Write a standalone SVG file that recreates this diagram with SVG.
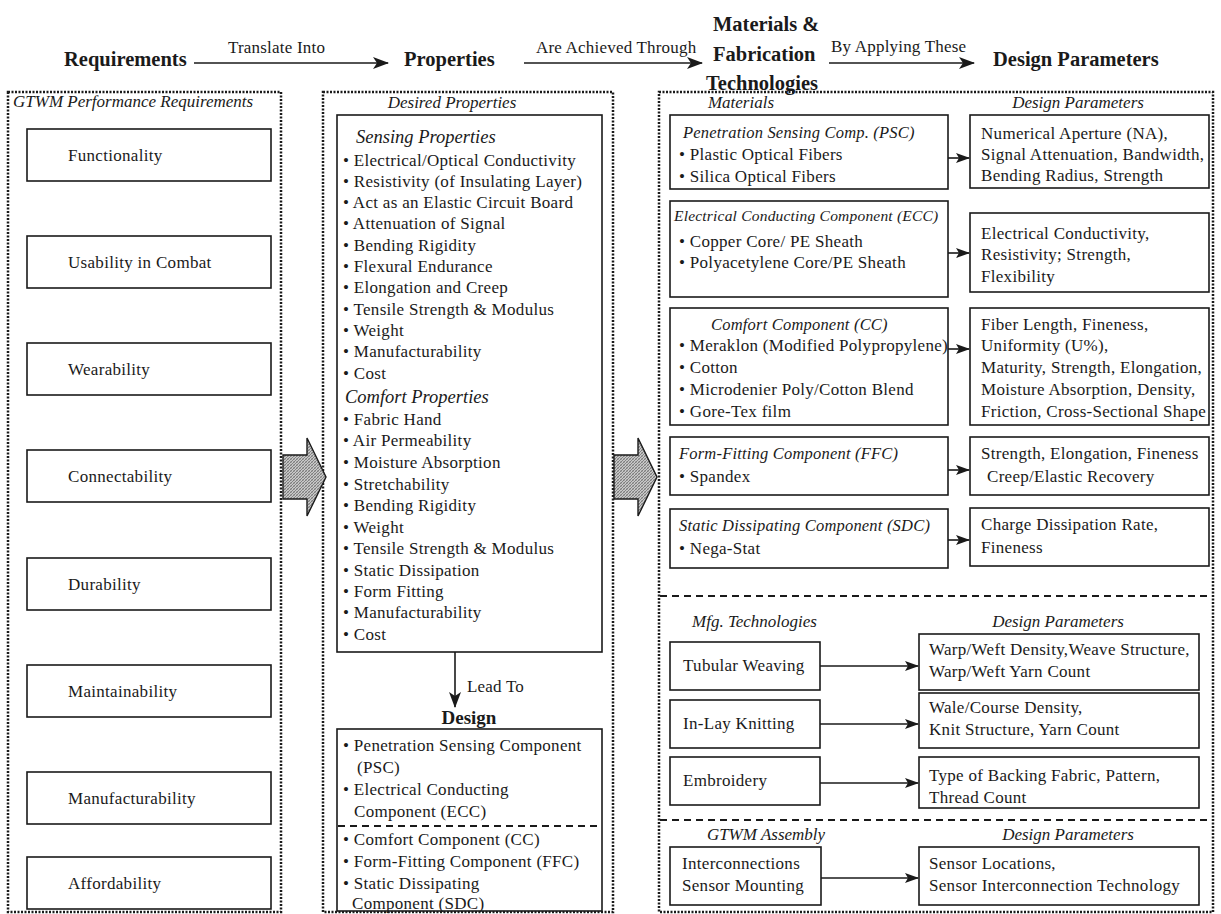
<svg xmlns="http://www.w3.org/2000/svg" width="1221" height="914" viewBox="0 0 1221 914">
<defs>
<style>
text{font-family:"Liberation Serif","Times New Roman",serif;fill:#1a1a1a}
.hd{font-size:20.5px;font-weight:bold}
.lb{font-size:17px;letter-spacing:0.2px}
.b{font-size:17px;letter-spacing:0.3px}
.sec{font-size:17px;font-style:italic}
.sub{font-size:18.5px;font-style:italic}
.ttl{font-size:16.5px;font-style:italic;letter-spacing:0.2px}
.box{fill:#fff;stroke:#1a1a1a;stroke-width:1.6}
.dot{fill:none;stroke:#1a1a1a;stroke-width:2.5;stroke-dasharray:2 1.5}
.dash{fill:none;stroke:#1a1a1a;stroke-width:2.2;stroke-dasharray:7 5}
.ln{fill:none;stroke:#1a1a1a;stroke-width:1.6}
.big{fill:url(#hatch);stroke:#1a1a1a;stroke-width:1.4}
.mid{text-anchor:middle}
</style>
<marker id="ah" viewBox="0 0 16 12" refX="15" refY="6" markerWidth="16" markerHeight="12" markerUnits="userSpaceOnUse" orient="auto"><path d="M0,0 L16,6 L0,12 L4,6 z" fill="#1a1a1a"/></marker>
<marker id="as" viewBox="0 0 14 10" refX="13" refY="5" markerWidth="14" markerHeight="10" markerUnits="userSpaceOnUse" orient="auto"><path d="M0,0 L14,5 L0,10 L3,5 z" fill="#1a1a1a"/></marker>
<pattern id="hatch" width="3" height="3" patternUnits="userSpaceOnUse"><rect width="3" height="3" fill="#c8c8c8"/><path d="M0,3 L3,0" stroke="#6a6a6a" stroke-width="0.8"/><path d="M0,0 L3,3" stroke="#8a8a8a" stroke-width="0.5"/></pattern>
</defs>
<rect width="1221" height="914" fill="#fff"/>

<g id="headers">
<text class="hd" x="64" y="66">Requirements</text>
<text class="hd" x="404" y="66">Properties</text>
<text class="hd" x="713" y="31">Materials &amp;</text>
<text class="hd" x="713" y="61">Fabrication</text>
<text class="hd" x="706" y="90">Technologies</text>
<text class="hd" x="993" y="66">Design Parameters</text>
</g>

<g id="frames">
<rect class="dot" x="8" y="92" width="273" height="820"/>
<rect class="dot" x="323" y="92" width="290" height="820"/>
<rect class="dot" x="659" y="92" width="554" height="820"/>
<line class="dash" x1="660" y1="596" x2="1212" y2="596"/>
<line class="dash" x1="660" y1="820" x2="1212" y2="820"/>
<text class="sec" x="13" y="107">GTWM Performance Requirements</text>
<text class="sec mid" x="452" y="108">Desired Properties</text>
<text class="sec mid" x="741" y="108">Materials</text>
<text class="sec mid" x="1078" y="108">Design Parameters</text>
<text class="sec" x="692" y="627">Mfg. Technologies</text>
<text class="sec mid" x="1058" y="627">Design Parameters</text>
<text class="sec mid" x="766" y="840">GTWM Assembly</text>
<text class="sec mid" x="1068" y="840">Design Parameters</text>
</g>

<g id="req-functionality"><rect class="box" x="27" y="129" width="244" height="52"/><text class="b" x="68" y="161">Functionality</text></g>
<g id="req-usability"><rect class="box" x="27" y="236" width="244" height="52"/><text class="b" x="68" y="268">Usability in Combat</text></g>
<g id="req-wearability"><rect class="box" x="27" y="343" width="244" height="52"/><text class="b" x="68" y="375">Wearability</text></g>
<g id="req-connectability"><rect class="box" x="27" y="450" width="244" height="52"/><text class="b" x="68" y="482">Connectability</text></g>
<g id="req-durability"><rect class="box" x="27" y="558" width="244" height="52"/><text class="b" x="68" y="590">Durability</text></g>
<g id="req-maintainability"><rect class="box" x="27" y="665" width="244" height="52"/><text class="b" x="68" y="697">Maintainability</text></g>
<g id="req-manufacturability"><rect class="box" x="27" y="772" width="244" height="52"/><text class="b" x="68" y="804">Manufacturability</text></g>
<g id="req-affordability"><rect class="box" x="27" y="857" width="244" height="52"/><text class="b" x="68" y="889">Affordability</text></g>

<g id="desired-properties">
<rect class="box" x="337" y="115" width="265" height="537"/>
<text class="sub" x="356" y="143">Sensing Properties</text>
<text class="b" x="343" y="166">• Electrical/Optical Conductivity</text>
<text class="b" x="343" y="187">• Resistivity (of Insulating Layer)</text>
<text class="b" x="343" y="208">• Act as an Elastic Circuit Board</text>
<text class="b" x="343" y="229">• Attenuation of Signal</text>
<text class="b" x="343" y="251">• Bending Rigidity</text>
<text class="b" x="343" y="272">• Flexural Endurance</text>
<text class="b" x="343" y="293">• Elongation and Creep</text>
<text class="b" x="343" y="315">• Tensile Strength &amp; Modulus</text>
<text class="b" x="343" y="336">• Weight</text>
<text class="b" x="343" y="357">• Manufacturability</text>
<text class="b" x="343" y="379">• Cost</text>
<text class="sub" x="345" y="403">Comfort Properties</text>
<text class="b" x="343" y="425">• Fabric Hand</text>
<text class="b" x="343" y="446">• Air Permeability</text>
<text class="b" x="343" y="468">• Moisture Absorption</text>
<text class="b" x="343" y="490">• Stretchability</text>
<text class="b" x="343" y="511">• Bending Rigidity</text>
<text class="b" x="343" y="533">• Weight</text>
<text class="b" x="343" y="554">• Tensile Strength &amp; Modulus</text>
<text class="b" x="343" y="576">• Static Dissipation</text>
<text class="b" x="343" y="597">• Form Fitting</text>
<text class="b" x="343" y="618">• Manufacturability</text>
<text class="b" x="343" y="640">• Cost</text>
</g>

<g id="design">
<text class="hd mid" x="469" y="724" style="font-size:19px">Design</text>
<rect class="box" x="337" y="729" width="265" height="182"/>
<line class="dash" x1="338" y1="826" x2="601" y2="826"/>
<text class="b" x="343" y="751">• Penetration Sensing Component</text>
<text class="b" x="357" y="773">(PSC)</text>
<text class="b" x="343" y="795">• Electrical Conducting</text>
<text class="b" x="354" y="817">Component (ECC)</text>
<text class="b" x="343" y="845">• Comfort Component (CC)</text>
<text class="b" x="343" y="867">• Form-Fitting Component (FFC)</text>
<text class="b" x="343" y="889">• Static Dissipating</text>
<text class="b" x="352" y="909">Component (SDC)</text>
</g>

<g id="mat-psc"><rect class="box" x="670" y="115" width="278" height="74"/>
<text class="ttl" x="683" y="138">Penetration Sensing Comp. (PSC)</text>
<text class="b" x="679" y="160">• Plastic Optical Fibers</text>
<text class="b" x="679" y="182">• Silica Optical Fibers</text></g>
<g id="dp-psc"><rect class="box" x="970" y="115" width="239" height="73"/>
<text class="b" x="981" y="139">Numerical Aperture (NA),</text>
<text class="b" x="981" y="160">Signal Attenuation, Bandwidth,</text>
<text class="b" x="981" y="181">Bending Radius, Strength</text></g>

<g id="mat-ecc"><rect class="box" x="670" y="201" width="278" height="96"/>
<text class="ttl" x="674" y="221" style="font-size:15.5px">Electrical Conducting Component (ECC)</text>
<text class="b" x="679" y="247">• Copper Core/ PE Sheath</text>
<text class="b" x="679" y="268">• Polyacetylene Core/PE Sheath</text></g>
<g id="dp-ecc"><rect class="box" x="970" y="213" width="239" height="79"/>
<text class="b" x="981" y="239">Electrical Conductivity,</text>
<text class="b" x="981" y="260">Resistivity; Strength,</text>
<text class="b" x="981" y="282">Flexibility</text></g>

<g id="mat-cc"><rect class="box" x="670" y="308" width="278" height="117"/>
<text class="ttl" x="711" y="330">Comfort Component (CC)</text>
<text class="b" x="679" y="351">• Meraklon (Modified Polypropylene)</text>
<text class="b" x="679" y="373">• Cotton</text>
<text class="b" x="679" y="395">• Microdenier Poly/Cotton Blend</text>
<text class="b" x="679" y="417">• Gore-Tex film</text></g>
<g id="dp-cc"><rect class="box" x="970" y="308" width="239" height="117"/>
<text class="b" x="981" y="330">Fiber Length, Fineness,</text>
<text class="b" x="981" y="351">Uniformity (U%),</text>
<text class="b" x="981" y="373">Maturity, Strength, Elongation,</text>
<text class="b" x="981" y="395">Moisture Absorption, Density,</text>
<text class="b" x="981" y="417">Friction, Cross-Sectional Shape</text></g>

<g id="mat-ffc"><rect class="box" x="670" y="437" width="278" height="58"/>
<text class="ttl" x="679" y="459">Form-Fitting Component (FFC)</text>
<text class="b" x="679" y="482">• Spandex</text></g>
<g id="dp-ffc"><rect class="box" x="970" y="437" width="239" height="58"/>
<text class="b" x="981" y="459">Strength, Elongation, Fineness</text>
<text class="b" x="987" y="482">Creep/Elastic Recovery</text></g>

<g id="mat-sdc"><rect class="box" x="670" y="509" width="278" height="59"/>
<text class="ttl" x="679" y="531">Static Dissipating Component (SDC)</text>
<text class="b" x="679" y="554">• Nega-Stat</text></g>
<g id="dp-sdc"><rect class="box" x="970" y="508" width="239" height="58"/>
<text class="b" x="981" y="530">Charge Dissipation Rate,</text>
<text class="b" x="981" y="553">Fineness</text></g>

<g id="mfg-weaving"><rect class="box" x="670" y="642" width="150" height="48"/>
<text class="b" x="683" y="671">Tubular Weaving</text></g>
<g id="dp-weaving"><rect class="box" x="919" y="634" width="280" height="56"/>
<text class="b" x="929" y="655">Warp/Weft Density,Weave Structure,</text>
<text class="b" x="929" y="677">Warp/Weft Yarn Count</text></g>

<g id="mfg-knitting"><rect class="box" x="670" y="700" width="150" height="48"/>
<text class="b" x="683" y="729">In-Lay Knitting</text></g>
<g id="dp-knitting"><rect class="box" x="919" y="693" width="280" height="55"/>
<text class="b" x="929" y="713">Wale/Course Density,</text>
<text class="b" x="929" y="735">Knit Structure, Yarn Count</text></g>

<g id="mfg-embroidery"><rect class="box" x="670" y="757" width="150" height="48"/>
<text class="b" x="683" y="786">Embroidery</text></g>
<g id="dp-embroidery"><rect class="box" x="919" y="757" width="280" height="51"/>
<text class="b" x="929" y="781">Type of Backing Fabric, Pattern,</text>
<text class="b" x="929" y="803">Thread Count</text></g>

<g id="asm-interconnections"><rect class="box" x="670" y="847" width="151" height="58"/>
<text class="b" x="682" y="869">Interconnections</text>
<text class="b" x="682" y="891">Sensor Mounting</text></g>
<g id="dp-assembly"><rect class="box" x="919" y="847" width="280" height="58"/>
<text class="b" x="929" y="869">Sensor Locations,</text>
<text class="b" x="929" y="891">Sensor Interconnection Technology</text></g>

<g id="connectors">
<line class="ln" x1="194" y1="63" x2="388" y2="63" marker-end="url(#ah)"/>
<text class="lb" x="228" y="53">Translate Into</text>
<line class="ln" x1="524" y1="63" x2="702" y2="63" marker-end="url(#ah)"/>
<text class="lb" x="536" y="53">Are Achieved Through</text>
<line class="ln" x1="829" y1="63" x2="974" y2="63" marker-end="url(#ah)"/>
<text class="lb" x="831" y="52">By Applying These</text>
<polygon class="big" points="283,455 307,455 307,438 326,477 307,516 307,499 283,499"/>
<polygon class="big" points="614,455 638,455 638,438 657,477 638,516 638,499 614,499"/>
<line class="ln" x1="455" y1="652" x2="455" y2="707" marker-end="url(#ah)"/>
<text class="lb" x="467" y="692">Lead To</text>
<line class="ln" x1="948" y1="158" x2="969" y2="158" marker-end="url(#as)"/>
<line class="ln" x1="948" y1="253" x2="969" y2="253" marker-end="url(#as)"/>
<line class="ln" x1="948" y1="349" x2="969" y2="349" marker-end="url(#as)"/>
<line class="ln" x1="948" y1="470" x2="969" y2="470" marker-end="url(#as)"/>
<line class="ln" x1="948" y1="540" x2="969" y2="540" marker-end="url(#as)"/>
<line class="ln" x1="820" y1="666" x2="918" y2="666" marker-end="url(#as)"/>
<line class="ln" x1="820" y1="724" x2="918" y2="724" marker-end="url(#as)"/>
<line class="ln" x1="820" y1="783" x2="918" y2="783" marker-end="url(#as)"/>
<line class="ln" x1="821" y1="878" x2="918" y2="878" marker-end="url(#as)"/>
</g>
</svg>
